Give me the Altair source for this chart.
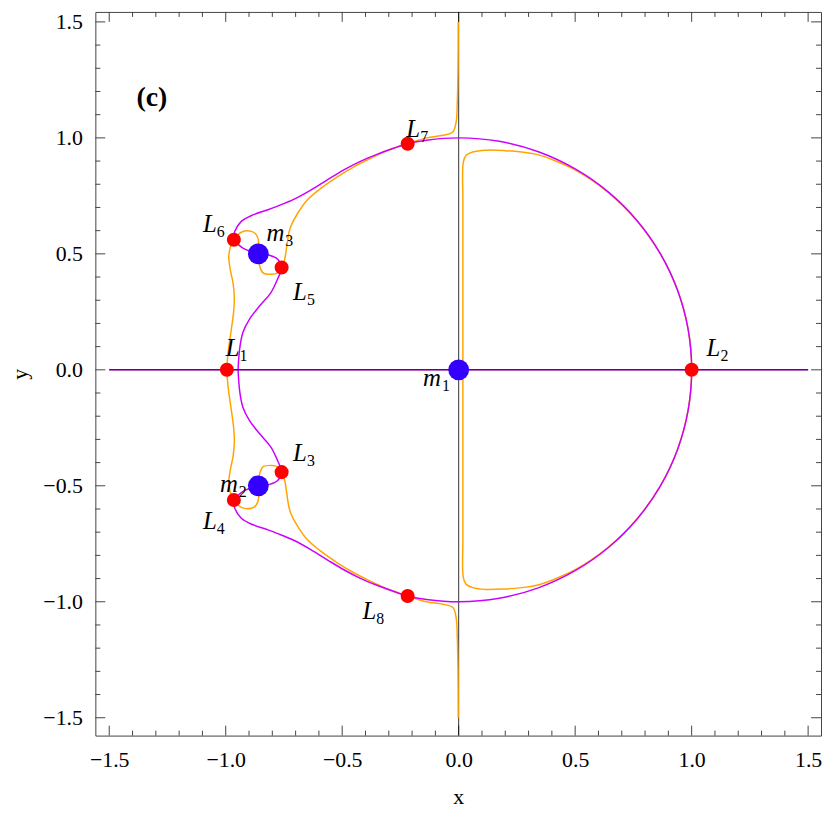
import altair as alt
import pandas as pd

# ---------------- data ----------------
# purple contour (closed loop through m3, L7, L2, L8, m2)
purple_pts = [
    (-0.947, 0.0), (-0.940, 0.092), (-0.926, 0.162), (-0.897, 0.220), (-0.854, 0.276),
    (-0.806, 0.333), (-0.777, 0.392), (-0.760, 0.441), (-0.777, 0.477), (-0.812, 0.494),
    (-0.860, 0.500), (-0.918, 0.520), (-0.947, 0.541), (-0.965, 0.561), (-0.961, 0.597),
    (-0.933, 0.640), (-0.883, 0.668), (-0.819, 0.690), (-0.777, 0.706), (-0.706, 0.736),
    (-0.635, 0.775), (-0.564, 0.819), (-0.493, 0.862), (-0.422, 0.899), (-0.351, 0.929),
    (-0.280, 0.955), (-0.219, 0.975), (-0.138, 0.990), (0.0, 1.0), (0.174, 0.985),
    (0.342, 0.940), (0.500, 0.866), (0.643, 0.766), (0.766, 0.643), (0.866, 0.500),
    (0.940, 0.342), (0.985, 0.174), (1.0, 0.0), (0.985, -0.174), (0.940, -0.342),
    (0.866, -0.500), (0.766, -0.643), (0.643, -0.766), (0.500, -0.866), (0.342, -0.940),
    (0.174, -0.985), (0.0, -1.0), (-0.138, -0.990), (-0.219, -0.975), (-0.280, -0.955),
    (-0.351, -0.929), (-0.422, -0.899), (-0.493, -0.862), (-0.564, -0.819), (-0.635, -0.775),
    (-0.706, -0.736), (-0.777, -0.706), (-0.819, -0.690), (-0.883, -0.668), (-0.933, -0.640),
    (-0.961, -0.597), (-0.965, -0.561), (-0.947, -0.541), (-0.918, -0.520), (-0.860, -0.500),
    (-0.812, -0.494), (-0.777, -0.477), (-0.760, -0.441), (-0.777, -0.392), (-0.806, -0.333),
    (-0.854, -0.276), (-0.897, -0.220), (-0.926, -0.162), (-0.940, -0.092), (-0.947, 0.0),
]
# purple y = 0 line
purple_axis_pts = [(-1.5, 0.0), (1.5, 0.0)]

# orange contour: left branch from top of x=0 round the left side to the bottom
orange_left_pts = [
    (-0.002, 1.5), (-0.003, 1.296), (-0.006, 1.153), (-0.011, 1.068), (-0.025, 1.025),
    (-0.067, 1.011), (-0.138, 1.000), (-0.219, 0.975), (-0.309, 0.944), (-0.380, 0.911),
    (-0.450, 0.875), (-0.521, 0.832), (-0.592, 0.782), (-0.649, 0.733), (-0.691, 0.675),
    (-0.721, 0.618), (-0.730, 0.585), (-0.738, 0.533), (-0.747, 0.476), (-0.760, 0.441),
    (-0.777, 0.418), (-0.805, 0.412), (-0.840, 0.418), (-0.854, 0.447), (-0.860, 0.500),
    (-0.859, 0.554), (-0.869, 0.583), (-0.890, 0.597), (-0.933, 0.593), (-0.965, 0.561),
    (-0.980, 0.530), (-0.987, 0.485), (-0.980, 0.430), (-0.968, 0.370), (-0.963, 0.310),
    (-0.966, 0.250), (-0.978, 0.160), (-0.989, 0.080), (-0.995, 0.0),
    (-0.989, -0.080), (-0.978, -0.160), (-0.966, -0.250), (-0.963, -0.310), (-0.968, -0.370),
    (-0.980, -0.430), (-0.987, -0.485), (-0.980, -0.530), (-0.965, -0.561), (-0.933, -0.593),
    (-0.890, -0.597), (-0.869, -0.583), (-0.859, -0.554), (-0.860, -0.500), (-0.854, -0.447),
    (-0.840, -0.418), (-0.805, -0.412), (-0.777, -0.418), (-0.760, -0.441), (-0.747, -0.476),
    (-0.738, -0.533), (-0.730, -0.585), (-0.721, -0.618), (-0.691, -0.675), (-0.649, -0.733),
    (-0.592, -0.782), (-0.521, -0.832), (-0.450, -0.875), (-0.380, -0.911), (-0.309, -0.944),
    (-0.219, -0.975), (-0.138, -1.000), (-0.067, -1.011), (-0.025, -1.025), (-0.011, -1.068),
    (-0.006, -1.153), (-0.003, -1.296), (-0.002, -1.5),
]
# orange contour: right "D" shape
orange_right_pts = [
    (0.018, 0.0), (0.018, 0.40), (0.018, 0.725), (0.020, 0.896), (0.032, 0.925),
    (0.060, 0.939), (0.117, 0.947), (0.200, 0.945), (0.270, 0.939), (0.330, 0.930),
    (0.400, 0.907), (0.500, 0.862), (0.643, 0.764), (0.766, 0.642), (0.866, 0.500),
    (0.940, 0.342), (0.985, 0.174), (1.0, 0.0), (0.985, -0.174), (0.940, -0.342),
    (0.866, -0.500), (0.766, -0.642), (0.643, -0.764), (0.500, -0.862), (0.400, -0.907),
    (0.330, -0.930), (0.270, -0.939), (0.200, -0.945), (0.117, -0.947), (0.060, -0.939),
    (0.032, -0.925), (0.020, -0.896), (0.018, -0.725), (0.018, -0.40), (0.018, 0.0),
]

# equilibrium points and primaries
lagrange_names = ["1", "2", "3", "4", "5", "6", "7", "8"]
lagrange_x = [-0.995, 1.0, -0.760, -0.965, -0.760, -0.965, -0.219, -0.219]
lagrange_y = [0.0, 0.0, -0.441, -0.561, 0.441, 0.561, 0.975, -0.975]
mass_names = ["1", "2", "3"]
mass_x = [0.0, -0.860, -0.860]
mass_y = [0.0, -0.500, 0.500]

# label anchors (left baseline of the main glyph)
L_label_x = [-1.000, 1.064, -0.711, -1.098, -0.711, -1.098, -0.225, -0.413]
L_label_y = [0.058, 0.058, -0.392, -0.687, 0.302, 0.593, 1.003, -1.076]
m_label_x = [-0.153, -1.025, -0.825]
m_label_y = [-0.071, -0.528, 0.554]
panel_label = "(c)"
panel_x, panel_y = -1.383, 1.139

# axis ticks
major_ticks = [-1.5, -1.0, -0.5, 0.0, 0.5, 1.0, 1.5]
minor_ticks = [-1.4, -1.3, -1.2, -1.1, -0.9, -0.8, -0.7, -0.6, -0.4, -0.3, -0.2, -0.1,
               0.1, 0.2, 0.3, 0.4, 0.6, 0.7, 0.8, 0.9, 1.1, 1.2, 1.3, 1.4]

# ---------------- chart ----------------
W, H = 731, 729
SERIF = "Liberation Serif, Times New Roman, Times, serif"
FRAME = "#444444"
ORANGE = "#FFA500"
PURPLE = "#CC00FF"

xs = alt.Scale(domain=[-1.5596, 1.5553], nice=False, zero=False)
ys = alt.Scale(domain=[-1.577, 1.543], nice=False, zero=False)

xaxis = alt.Axis(values=major_ticks, format=".1f", ticks=False, tickSize=0, domain=False,
                 grid=False, labelFont=SERIF, labelFontSize=22, labelColor="black",
                 labelPadding=14, title="x", titleFont=SERIF, titleFontSize=22,
                 titleFontWeight="normal", titleColor="black", titleY=68,
                 titleBaseline="alphabetic")
yaxis = alt.Axis(values=major_ticks, format=".1f", ticks=False, tickSize=0, domain=False,
                 grid=False, labelFont=SERIF, labelFontSize=22, labelColor="black",
                 labelPadding=13, title="y", titleFont=SERIF, titleFontSize=22,
                 titleFontWeight="normal", titleColor="black", titleX=-76, titleY=H / 2,
                 titleAngle=-90, titleBaseline="middle", titleAlign="center")


def X(f="x"):
    return alt.X(f"{f}:Q", scale=xs, axis=xaxis)


def Y(f="y"):
    return alt.Y(f"{f}:Q", scale=ys, axis=yaxis)


def curve_df(pts):
    return pd.DataFrame({"x": [p[0] for p in pts], "y": [p[1] for p in pts],
                         "i": list(range(len(pts)))})


def curve(pts, color, width=1.5, interp="catmull-rom"):
    return alt.Chart(curve_df(pts)).mark_line(
        color=color, strokeWidth=width, interpolate=interp, clip=True
    ).encode(x=X(), y=Y(), order=alt.Order("i:Q"))


major_df = pd.DataFrame({"v": major_ticks})
minor_df = pd.DataFrame({"v": minor_ticks})


def ticks(df, length):
    bottom = alt.Chart(df).mark_rule(color=FRAME, strokeWidth=1).encode(
        x=X("v"), y=alt.value(H), y2=alt.value(H - length))
    top = alt.Chart(df).mark_rule(color=FRAME, strokeWidth=1).encode(
        x=X("v"), y=alt.value(0), y2=alt.value(length))
    left = alt.Chart(df).mark_rule(color=FRAME, strokeWidth=1).encode(
        y=Y("v"), x=alt.value(0), x2=alt.value(length))
    right = alt.Chart(df).mark_rule(color=FRAME, strokeWidth=1).encode(
        y=Y("v"), x=alt.value(W), x2=alt.value(W - length))
    return [bottom, top, left, right]


vaxis = alt.Chart(pd.DataFrame({"x": [0.0]})).mark_rule(color="black", strokeWidth=0.8).encode(
    x=X(), y=alt.value(0), y2=alt.value(H))
haxis = curve(purple_axis_pts, "black", width=0.7, interp="linear")

lag_df = pd.DataFrame({"x": lagrange_x, "y": lagrange_y, "n": lagrange_names})
mass_df = pd.DataFrame({"x": mass_x, "y": mass_y, "n": mass_names})
red = alt.Chart(lag_df).mark_circle(color="#FF0000", opacity=1, size=200).encode(x=X(), y=Y())
blue = alt.Chart(mass_df).mark_circle(color="#3300FF", opacity=1, size=440).encode(x=X(), y=Y())

Ldf = pd.DataFrame({"x": L_label_x, "y": L_label_y, "t": ["L"] * 8, "s": lagrange_names})
mdf = pd.DataFrame({"x": m_label_x, "y": m_label_y, "t": ["m"] * 3, "s": mass_names})


def label_layers(df, sub_dx):
    main = alt.Chart(df).mark_text(align="left", baseline="alphabetic", font=SERIF,
                                   fontStyle="italic", fontSize=25, color="black").encode(
        x=X(), y=Y(), text="t:N")
    sub = alt.Chart(df).mark_text(align="left", baseline="alphabetic", font=SERIF,
                                  fontSize=16, color="black", dx=sub_dx, dy=5).encode(
        x=X(), y=Y(), text="s:N")
    return [main, sub]


panel = alt.Chart(pd.DataFrame({"x": [panel_x], "y": [panel_y], "t": [panel_label]})).mark_text(
    align="left", baseline="alphabetic", font=SERIF, fontWeight="bold", fontSize=28,
    color="black").encode(x=X(), y=Y(), text="t:N")

layers = (
    ticks(major_df, 10) + ticks(minor_df, 5)
    + [vaxis,
       curve(orange_left_pts, ORANGE),
       curve(orange_right_pts, ORANGE),
       curve(purple_pts, PURPLE),
       curve(purple_axis_pts, PURPLE, width=1.6, interp="linear"),
       haxis, red, blue]
    + label_layers(Ldf, 14) + label_layers(mdf, 19) + [panel]
)

chart = alt.layer(*layers).properties(
    width=W, height=H,
    padding={"left": 88, "top": 1, "right": 1, "bottom": 73},
    autosize=alt.AutoSizeParams(type="none"),
).configure_view(stroke=FRAME, strokeWidth=1)

chart.save("out.html", embed_options={"renderer": "svg", "actions": False})
